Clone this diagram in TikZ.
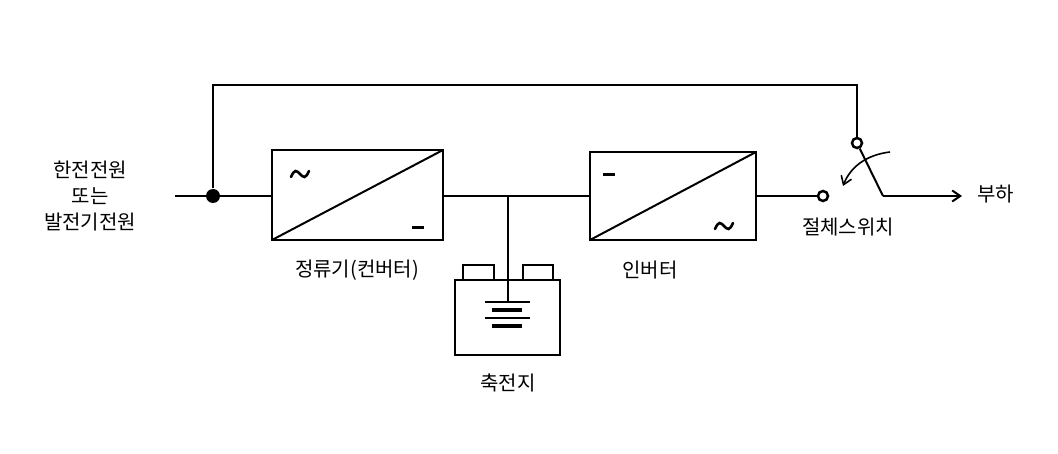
\documentclass[tikz,border=0pt]{standalone}
\usepackage{fontspec}
\setmainfont{Noto Sans CJK KR}
\usetikzlibrary{arrows.meta}
\begin{document}
\begin{tikzpicture}[x=1pt,y=-1pt,line width=2pt,
  lbl/.style={font=\fontsize{20}{24}\selectfont,inner sep=0pt},
  cbox/.style={draw,line width=2.2pt},
  tld/.style={line width=2.6pt,line cap=round},
  dsh/.style={line width=3pt}]
\useasboundingbox (0,0) rectangle (1058,454);
\coordinate (in) at (175,196);
\node[circle,fill,inner sep=0pt,minimum size=14pt] (dot) at (213,196) {};
\draw[cbox] (272,150) rectangle (443,240);
\draw (272,240) -- (443,150);
\draw[tld] (291,177) sin (295.5,171) cos (300,174) sin (304.5,177) cos (309,171);
\draw[dsh] (412,228) -- (424,228);
\draw[cbox] (590,152) rectangle (756,240);
\draw (590,240) -- (756,152);
\draw[dsh] (603,175) -- (615,175);
\draw[tld] (715,229) sin (719.5,223) cos (724,226) sin (728.5,229) cos (733,223);
\draw (in) -- (272,196);
\draw (443,196) -- (590,196);
\draw (508,196) -- (508,302);
\draw[cbox] (455,280) rectangle (560,355);
\draw[cbox] (463,280) -- (463,265) -- (494,265) -- (494,280);
\draw[cbox] (523,280) -- (523,265) -- (553,265) -- (553,280);
\draw (485,302) -- (530,302);
\draw[line width=3.5pt] (492,310) -- (522,310);
\draw (485,318) -- (530,318);
\draw[line width=3.5pt] (492,326) -- (522,326);
\node[circle,draw,line width=2.5pt,inner sep=0pt,minimum size=10pt] (sw1) at (857,143) {};
\node[circle,draw,line width=2.5pt,inner sep=0pt,minimum size=10pt] (sw2) at (823,196) {};
\draw (dot) |- (213,85) -| (sw1);
\draw (756,196) -- (sw2);
\coordinate (k) at (883,196);
\coordinate (load) at (962,196);
\draw (sw1) -- (k);
\draw[-{Straight Barb[length=8pt,width=11pt]}] (k) -- (load);
\draw[line width=1.6pt,-{Straight Barb[length=8pt,width=11pt]}] (890,152) .. controls (865,155) and (850,168) .. (843,186);
\node[lbl,anchor=west] at (976,194) {부하};
\node[lbl] at (357,270) {정류기(컨버터)};
\node[lbl] at (650,270) {인버터};
\node[lbl] at (508,383) {축전지};
\node[lbl] at (848,227) {절체스위치};
\node[lbl] at (90,170) {한전전원};
\node[lbl] at (90,196) {또는};
\node[lbl] at (90,222) {발전기전원};
\end{tikzpicture}
\end{document}
